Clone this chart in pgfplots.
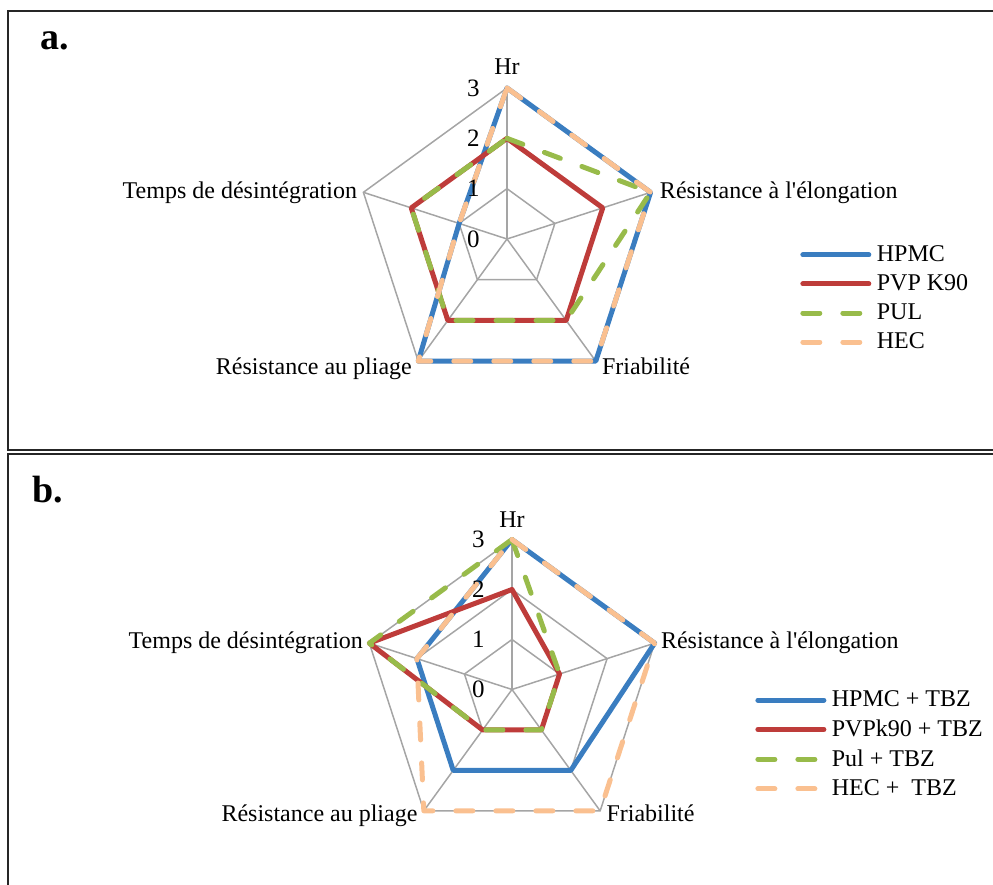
\documentclass[border=0pt]{standalone}
\usepackage{fontspec}
\setmainfont{Liberation Serif}
\usepackage{pgfplots}
\pgfplotsset{compat=1.18}
\definecolor{cblue}{RGB}{58,125,192}
\definecolor{cred}{RGB}{190,60,58}
\definecolor{cgreen}{RGB}{152,187,74}
\definecolor{corange}{RGB}{250,192,144}
\definecolor{cgrid}{RGB}{165,165,165}
\pgfplotsset{
  radar/.style={hide axis, clip=false, xmin=-4, xmax=4, ymin=-4, ymax=4,
    data cs=polar,
    legend cell align=left,
    legend style={draw=none, fill=none, anchor=north west, row sep=5.1pt,
      column sep=2.75pt, nodes={inner sep=0pt}, font=\fontsize{12}{14.4}\selectfont},
    legend image code/.code={\draw[##1] (0pt,0pt) -- (33pt,0pt);}},
  gridl/.style={cgrid, line width=0.75pt, forget plot, line join=miter},
  sblue/.style={cblue, line width=2.5pt, line join=round, line cap=round},
  sred/.style={cred, line width=2.5pt, line join=round, line cap=round},
  sgreen/.style={cgreen, line width=2.5pt, line join=round, line cap=round, dash pattern=on 8.5pt off 11.5pt},
  sorange/.style={corange, line width=2.5pt, line join=round, line cap=round, dash pattern=on 8.5pt off 11.5pt},
}
\newcommand{\radargrid}{%
  \addplot[gridl] coordinates {(90,1) (18,1) (-54,1) (-126,1) (162,1) (90,1)};
  \addplot[gridl] coordinates {(90,2) (18,2) (-54,2) (-126,2) (162,2) (90,2)};
  \addplot[gridl] coordinates {(90,3) (18,3) (-54,3) (-126,3) (162,3) (90,3)};
  \addplot[gridl] coordinates {(90,0) (90,3)};
  \addplot[gridl] coordinates {(18,0) (18,3)};
  \addplot[gridl] coordinates {(-54,0) (-54,3)};
  \addplot[gridl] coordinates {(-126,0) (-126,3)};
  \addplot[gridl] coordinates {(162,0) (162,3)};
}
\newcommand{\radarticks}{%
  \foreach \k in {0,1,2,3} {
    \edef\tmp{\noexpand\node[anchor=east, inner sep=0pt, xshift=-13.5pt, font=\noexpand\fontsize{12.5}{15}\noexpand\selectfont] at (axis cs:0,\k) {\k};}
    \tmp
  }
}
\begin{document}
\begin{tikzpicture}[font=\fontsize{12}{14.4}\selectfont]
\path[use as bounding box] (0,0) rectangle (496.5pt,442.5pt);
\begin{scope}
\clip (0,0) rectangle (496.5pt,442.5pt);
\draw[line width=1pt, black!85] (4pt,217.5pt) rectangle (510pt,436.75pt);
\draw[line width=1pt, black!85] (4pt,-10pt) rectangle (510pt,215.25pt);
\end{scope}
\node[anchor=base west, inner sep=0pt, font=\fontsize{19}{22}\selectfont\bfseries] at (20pt,417.5pt) {a.};
\node[anchor=base west, inner sep=0pt, font=\fontsize{19}{22}\selectfont\bfseries] at (16pt,191pt) {b.};

% ---------- panel a ----------
\begin{axis}[radar, at={(253.5pt,323pt)}, anchor=origin, x=25.1667pt, y=25.1667pt,
  legend style={at={(1.2126,0.495)}}]
\radargrid
\addplot[sblue] coordinates {(90,3) (18,3) (-54,3) (-126,3) (162,1) (90,3)};
\addlegendentry{HPMC}
\addplot[sred] coordinates {(90,2) (18,2) (-54,2) (-126,2) (162,2) (90,2)};
\addlegendentry{PVP K90}
\addplot[sgreen] coordinates {(90,2) (18,3) (-54,2) (-126,2) (162,2) (90,2)};
\addlegendentry{PUL}
\addplot[sorange] coordinates {(90,3) (18,3) (-54,3) (-126,3) (162,1) (90,3)};
\addlegendentry{HEC}
\radarticks
\node[anchor=base, inner sep=0pt, yshift=6.5pt] at (axis cs:0,3) {Hr};
\node[anchor=base west, inner sep=0pt, xshift=4.5pt, yshift=-3pt] at (axis cs:2.853,0.927) {Résistance à l\textquotesingle élongation};
\node[anchor=base west, inner sep=0pt, xshift=3pt, yshift=-6.5pt] at (axis cs:1.763,-2.427) {Friabilité};
\node[anchor=base east, inner sep=0pt, xshift=-3pt, yshift=-6.5pt] at (axis cs:-1.763,-2.427) {Résistance au pliage};
\node[anchor=base east, inner sep=0pt, xshift=-3pt, yshift=-3pt] at (axis cs:-2.853,0.927) {Temps de désintégration};
\end{axis}

% ---------- panel b ----------
\begin{axis}[radar, at={(256pt,97.75pt)}, anchor=origin, x=25pt, y=25pt,
  legend style={at={(1.0925,0.5083)}}]
\radargrid
\addplot[sblue] coordinates {(90,3) (18,3) (-54,2) (-126,2) (162,2) (90,3)};
\addlegendentry{HPMC + TBZ}
\addplot[sred] coordinates {(90,2) (18,1) (-54,1) (-126,1) (162,3) (90,2)};
\addlegendentry{PVPk90 + TBZ}
\addplot[sgreen] coordinates {(90,3) (18,1) (-54,1) (-126,1) (162,3) (90,3)};
\addlegendentry{Pul + TBZ}
\addplot[sorange] coordinates {(90,3) (18,3) (-54,3) (-126,3) (162,2) (90,3)};
\addlegendentry{HEC +\ \ TBZ}
\radarticks
\node[anchor=base, inner sep=0pt, yshift=6pt] at (axis cs:0,3) {Hr};
\node[anchor=base west, inner sep=0pt, xshift=3pt, yshift=-2.5pt] at (axis cs:2.853,0.927) {Résistance à l\textquotesingle élongation};
\node[anchor=base west, inner sep=0pt, xshift=3pt, yshift=-5.5pt] at (axis cs:1.763,-2.427) {Friabilité};
\node[anchor=base east, inner sep=0pt, xshift=-3pt, yshift=-5.5pt] at (axis cs:-1.763,-2.427) {Résistance au pliage};
\node[anchor=base east, inner sep=0pt, xshift=-3pt, yshift=-2.5pt] at (axis cs:-2.853,0.927) {Temps de désintégration};
\end{axis}
\end{tikzpicture}
\end{document}
